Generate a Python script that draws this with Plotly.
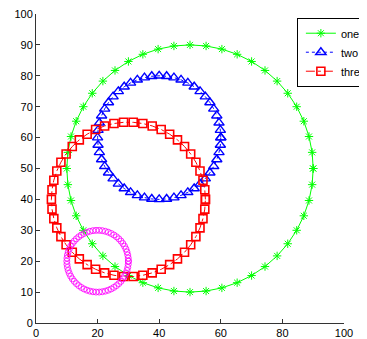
import numpy as np
import plotly.graph_objects as go

# circle parameters
names = ["one", "two", "three", None]
centers_x = [50, 40, 30, 20]
centers_y = [50, 60, 40, 20]
radii = [40, 20, 25, 10]
n_points = [49, 53, 51, 63]
colors = ["#00ff00", "#0000ff", "#ff0000", "#ff00ff"]
symbols = ["asterisk-open", "triangle-up-open", "square-open", "circle-open"]
dashes = ["solid", "dot", "dashdot", None]
sizes = [7, 9, 8, 6]
mlw = [1, 1.4, 1.6, 0.8]

x_ticks = [0, 20, 40, 60, 80, 100]
y_ticks = [0, 10, 20, 30, 40, 50, 60, 70, 80, 90, 100]

fig = go.Figure()
for name, cx, cy, r, n, c, s, d, sz, lw in zip(names, centers_x, centers_y, radii,
                                               n_points, colors, symbols, dashes, sizes, mlw):
    t = np.linspace(0, 2 * np.pi, n)
    x = cx + r * np.cos(t)
    y = cy + r * np.sin(t)
    mode = "lines+markers" if d else "markers"
    fig.add_trace(go.Scatter(
        x=x, y=y, mode=mode, name=name or "",
        showlegend=name is not None,
        line=dict(color=c, width=1, dash=d or "solid"),
        marker=dict(symbol=s, size=sz, color=c, line=dict(color=c, width=lw)),
    ))

# page body has an 8px default margin, so the figure is sized to compensate
fig.update_layout(
    width=359, height=331,
    margin=dict(l=28, r=23, t=6, b=16, autoexpand=False),
    paper_bgcolor="white", plot_bgcolor="white",
    font=dict(family="Liberation Sans, Arial, sans-serif", size=11, color="black"),
    showlegend=True,
    legend=dict(x=0.847, y=0.988, xanchor="left", yanchor="top",
                bgcolor="white", bordercolor="black", borderwidth=1,
                font=dict(size=11), tracegroupgap=0, indentation=3),
)
fig.update_xaxes(range=[0, 100], tickvals=x_ticks, showgrid=False, zeroline=False,
                 showline=True, linecolor="#333333", linewidth=1,
                 ticks="inside", ticklen=4, tickcolor="#333333",
                 ticklabeloverflow="allow")
fig.update_yaxes(range=[0, 100], tickvals=y_ticks, showgrid=False, zeroline=False,
                 showline=True, linecolor="#333333", linewidth=1,
                 ticks="inside", ticklen=4, tickcolor="#333333",
                 ticklabeloverflow="allow")

fig.write_html("out.html")
